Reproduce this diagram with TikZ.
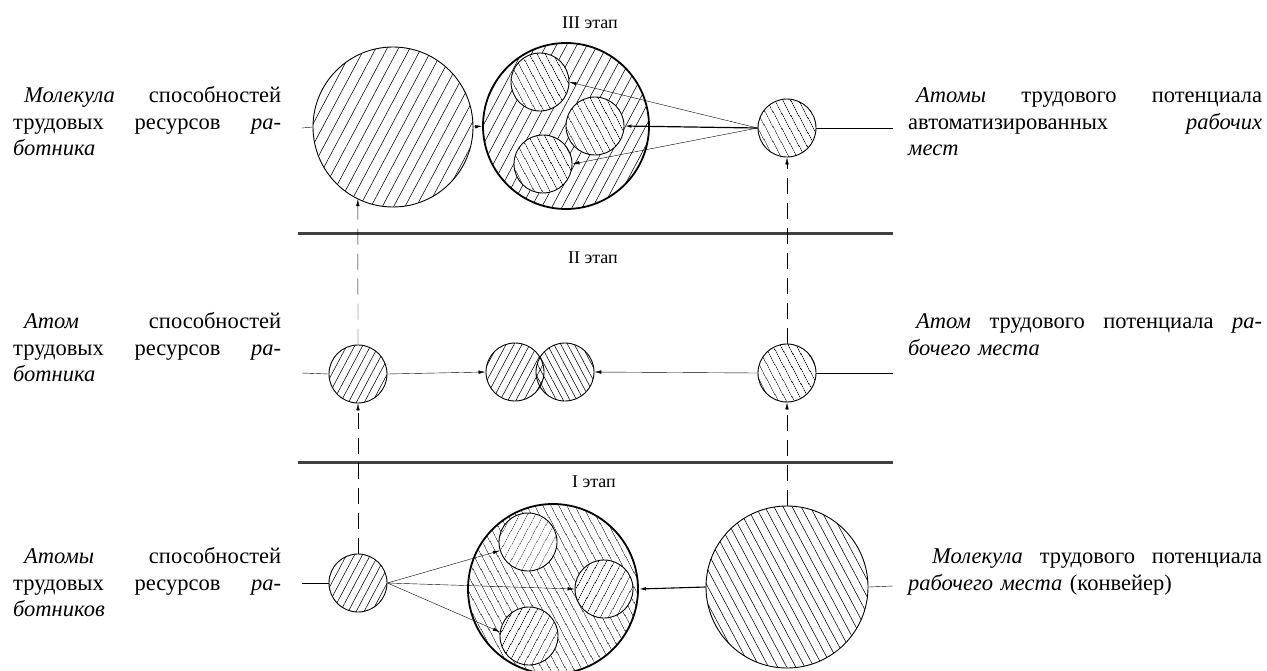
\documentclass[tikz,border=0pt]{standalone}
\usepackage{fontspec}
\setmainfont{Liberation Serif}
\usetikzlibrary{arrows.meta,patterns.meta}

\begin{document}
\begin{tikzpicture}[x=1pt,y=-1pt,
    worker/.style={pattern={Lines[angle=62,distance=#1,line width=0.55pt]}},
    place/.style={pattern={Lines[angle=-62,distance=#1,line width=0.55pt]}},
    ball/.style={circle,draw,line width=0.9pt,inner sep=0pt,minimum size=#1},
    txt/.style={inner sep=0pt,anchor=base west,align=left,font=\fontsize{22.5}{26.5}\selectfont},
    stage/.style={font=\fontsize{18}{20}\selectfont},
    >={Latex[length=7pt,width=3.5pt]}]
\useasboundingbox (0,0) rectangle (1267,670);

    \draw[line width=3pt,black!75] (298,233) -- (893,233);
    \draw[line width=3pt,black!75] (298,462) -- (893,462);

    \node[stage] (st3) at (590,23) {III этап};
    \node[stage] (st2) at (593,258) {II этап};
    \node[stage] (st1) at (594,482) {I этап};

% III этап
	\node[ball=160pt,worker=10pt] (molL) at (393,127) {};
	\node[ball=166pt,worker=9pt,line width=1.8pt] (molIII) at (566,126) {};
    \node[ball=58pt,place=6.5pt,preaction={fill=white}] (inA) at (540,82) {};
    \node[ball=58pt,place=6.5pt,preaction={fill=white}] (inB) at (595,126) {};
    \node[ball=58pt,place=6.5pt,preaction={fill=white}] (inC) at (543,164) {};
    \node[ball=58pt,place=6.5pt] (atIII) at (787,128) {};
    \coordinate (w3) at (302,128);
    \coordinate (e3) at (893,128);

% II этап
    \node[ball=58pt,worker=7pt] (atIIl) at (358,374) {};
    \node[ball=58pt,worker=7pt] (pairL) at (515,372) {};
    \node[ball=58pt,place=6pt] (pairR) at (565,372) {};
    \node[ball=58pt,place=6.5pt] (atIIr) at (787,373) {};
    \coordinate (w2) at (302,373);
    \coordinate (e2) at (893,373);

% I этап
    \node[ball=58pt,worker=7pt] (atIl) at (358,583) {};
	\node[ball=170pt,place=6.5pt,line width=1.8pt] (molI) at (553,589) {};
    \node[ball=58pt,worker=6.5pt,preaction={fill=white}] (inD) at (528,542) {};
    \node[ball=58pt,worker=6.5pt,preaction={fill=white}] (inE) at (604,589) {};
    \node[ball=58pt,worker=6.5pt,preaction={fill=white}] (inF) at (529,636) {};
    \node[ball=162pt,place=8pt] (molR) at (787,587) {};
    \coordinate (w1) at (302,583);
    \coordinate (e1) at (893,586);

    \draw (w3) -- (molL.west);
    \draw[->] (molL.east) -- (molIII.west);
    \draw[->] (atIII.west) -- (inA.east);
    \draw[->,line width=1.2pt] (atIII.west) -- (inB.east);
    \draw[->] (atIII.west) -- (inC.east);
    \draw (atIII.east) -- (e3);

    \draw (w2) -- (atIIl.west);
    \draw[->] (atIIl.east) -- (pairL.west);
    \draw[->] (atIIr.west) -- (pairR.east);
    \draw (atIIr.east) -- (e2);

    \draw (w1) -- (atIl.west);
    \draw[->] (atIl.east) -- (inD.197);
    \draw[->] (atIl.east) -- (inE.west);
    \draw[->] (atIl.east) -- (inF.172);
    \draw[->,line width=1.1pt] (molR.west) -- (molI.east);
    \draw (molR.east) -- (e1);

    \draw[->,dash pattern=on 16pt off 9pt] (atIl.north) -- (atIIl.south);
    \draw[->,dash pattern=on 16pt off 9pt] (atIIl.north) -- (molL.244);
    \draw[->,dash pattern=on 16pt off 9pt] (molR.north) -- (atIIr.south);
    \draw[->,dash pattern=on 16pt off 9pt] (atIIr.north) -- (atIII.south);

    \node[txt,text width=268pt] (tMolL) at (13,102.5) {\hspace*{11pt}\textit{Молекула}\hfill способностей\\трудовых\hfill ресурсов\hfill \textit{ра-}\\\textit{ботника}};
    \node[txt,text width=268pt] (tAtL) at (13,328.5) {\hspace*{11pt}\textit{Атом}\hfill способностей\\трудовых\hfill ресурсов\hfill \textit{ра-}\\\textit{ботника}};
    \node[txt,text width=268pt] (tAtsL) at (13,563.5) {\hspace*{11pt}\textit{Атомы}\hfill способностей\\трудовых\hfill ресурсов\hfill \textit{ра-}\\\textit{ботников}};
    \node[txt,text width=354pt] (tAtsR) at (908,102.5) {\hspace*{8pt}\textit{Атомы}\hfill трудового\hfill потенциала\\автоматизированных\hfill \textit{рабочих}\\\textit{мест}};
    \node[txt,text width=354pt] (tAtR) at (908,328.5) {\hspace*{8pt}\textit{Атом}\hfill трудового\hfill потенциала\hfill \textit{ра-}\\\textit{бочего места}};
    \node[txt,text width=354pt] (tMolR) at (908,563.5) {\hspace*{24pt}\textit{Молекула}\hfill трудового\hfill потенциала\\\textit{рабочего места} (конвейер)};
\end{tikzpicture}
\end{document}
